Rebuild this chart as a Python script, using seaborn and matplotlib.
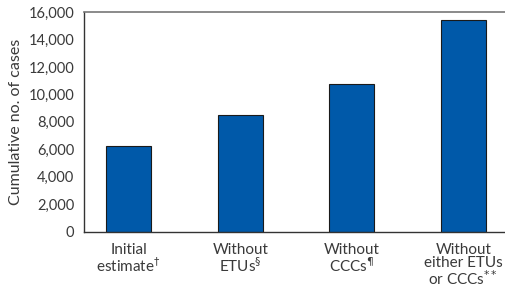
import numpy as np
import pandas as pd
import matplotlib
matplotlib.use("Agg")
import matplotlib.pyplot as plt
import seaborn as sns

# data
scenarios = [
    "Initial\nestimate$^{\\dagger}$",
    "Without\nETUs$^{\\S}$",
    "Without\nCCCs$^{\\P}$",
    "Without\neither ETUs\nor CCCs$^{**}$",
]
cases = [6240, 8500, 10760, 15420]
yticks = [0, 2000, 4000, 6000, 8000, 10000, 12000, 14000, 16000]

df = pd.DataFrame({"scenario": scenarios, "cases": cases})

sns.set_style("white")
plt.rcParams["font.family"] = ["Lato", "DejaVu Sans"]
plt.rcParams["mathtext.fontset"] = "dejavusans"

txt = "#3a3a3a"
fig = plt.figure(figsize=(5.06, 3.0), dpi=100)
ax = fig.add_axes([84 / 506, 1 - 231.7 / 300, (508 - 84) / 506, 219.7 / 300])

sns.barplot(data=df, x="scenario", y="cases", color="#0059a9", saturation=1,
            width=0.4, edgecolor="#1a1a1a", linewidth=0.8, ax=ax)

ax.set_xlim(-0.4, 3.4)
ax.set_ylim(0, 16000)
ax.set_yticks(yticks)
ax.set_yticklabels([f"{v:,}" for v in yticks])
ax.set_xlabel("")
ax.set_ylabel("Cumulative no. of cases", fontsize=11.5, color=txt, labelpad=4)

for s in ["left", "bottom"]:
    ax.spines[s].set_color("#333333")
    ax.spines[s].set_linewidth(1.0)
ax.spines["top"].set_color("#777777")
ax.spines["top"].set_linewidth(1.2)
ax.spines["right"].set_visible(False)

ax.tick_params(axis="both", direction="out", length=5, width=1.0,
               color="#333333", labelcolor=txt)
ax.tick_params(axis="y", labelsize=10.5, pad=2)
ax.tick_params(axis="x", labelsize=11, pad=3)
for lab in ax.get_xticklabels():
    lab.set_linespacing(0.95)

fig.savefig("out.png", dpi=100)
